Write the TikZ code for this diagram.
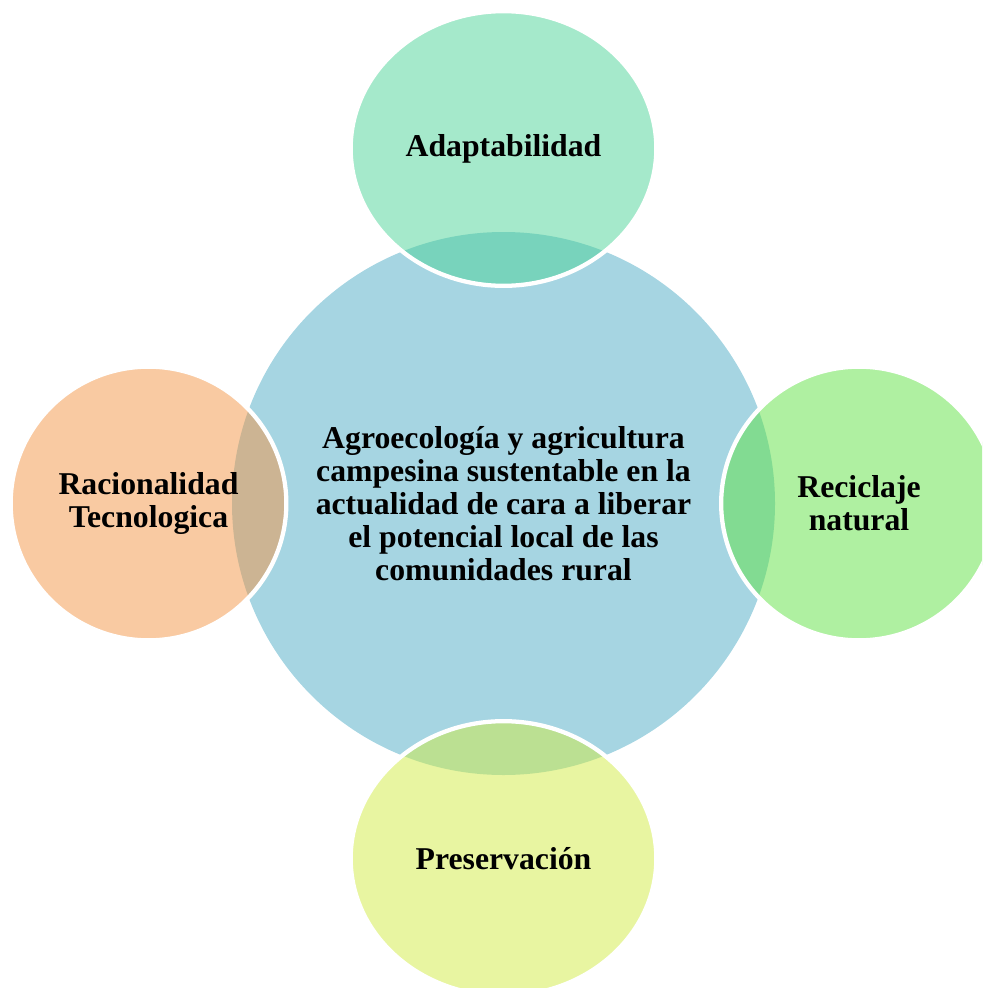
\documentclass[tikz,border=0pt]{standalone}
\usepackage{fontspec}
\setmainfont{Liberation Serif}
\usetikzlibrary{shapes.geometric}

\definecolor{azulcentro}{RGB}{166,213,226}
\definecolor{verdeagua}{RGB}{75,211,151}
\definecolor{naranja}{RGB}{243,149,69}
\definecolor{verdeclaro}{RGB}{95,225,67}
\definecolor{limon}{RGB}{209,235,67}

\tikzset{
  texto/.style={font=\bfseries\fontsize{23.8}{24.8}\selectfont, align=center, text=black},
  centro/.style={circle, fill=azulcentro, minimum size=407.25pt, inner sep=0pt, texto},
  petalo/.style={ellipse, draw=white, line width=3.2pt, fill opacity=0.5, text opacity=1, inner sep=0pt, texto},
}

\begin{document}
\begin{tikzpicture}[x=0.75pt,y=-0.75pt]
    \useasboundingbox (0,0) rectangle (982,988);
    \clip (0,0) rectangle (982,988);
    \node[centro] (nucleo) at (503.5,503.5) {Agroecología y agricultura\\campesina sustentable en la\\actualidad de cara a liberar\\el potencial local de las\\comunidades rural}; % Circulo central
    \node[petalo, fill=verdeagua, minimum width=229.25pt, minimum height=206pt] (adapta) at (503.5,148.5) {Adaptabilidad}; % Arriba
    \node[petalo, fill=verdeclaro, minimum width=206.75pt, minimum height=205.25pt] (recicla) at (859,503.5) {Reciclaje\\natural}; % Derecha
    \node[petalo, fill=limon, minimum width=229.25pt, minimum height=206pt] (preserva) at (503.5,858.5) {Preservación}; % Abajo
    \node[petalo, fill=naranja, minimum width=206.75pt, minimum height=205.25pt] (raciona) at (148.5,503.5) {Racionalidad\\Tecnologica}; % Izquierda
\end{tikzpicture}
\end{document}
